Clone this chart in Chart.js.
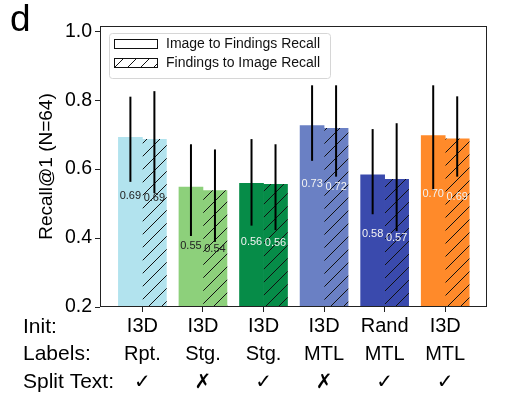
<!DOCTYPE html>
<html>
<head>
<meta charset="utf-8">
<script src="https://cdn.jsdelivr.net/npm/chart.js@4.4.0/dist/chart.umd.min.js"></script>
<style>
  html, body { margin: 0; padding: 0; background: #fff; }
  #wrap { width: 512px; height: 399px; }
</style>
</head>
<body>
<div id="wrap"><canvas id="recall-chart"></canvas></div>
<script>
// data
let categories = [0, 1, 2, 3, 4, 5]
let init_row = ['I3D', 'I3D', 'I3D', 'I3D', 'Rand', 'I3D']
let labels_row = ['Rpt.', 'Stg.', 'Stg.', 'MTL', 'MTL', 'MTL']
let split_row = ['\u2713', '\u2717', '\u2713', '\u2717', '\u2713', '\u2713']
let row_names = ['Init:', 'Labels:', 'Split Text:']

let img_to_find = [0.692, 0.548, 0.559, 0.726, 0.583, 0.697]
let img_to_find_low = [0.563, 0.406, 0.436, 0.624, 0.469, 0.539]
let img_to_find_high = [0.810, 0.672, 0.687, 0.843, 0.716, 0.843]

let find_to_img = [0.686, 0.538, 0.556, 0.718, 0.570, 0.688]
let find_to_img_low = [0.530, 0.389, 0.423, 0.578, 0.420, 0.578]
let find_to_img_high = [0.826, 0.657, 0.672, 0.843, 0.733, 0.811]

let y_ticks = [0.2, 0.4, 0.6, 0.8, 1.0]

// styles
let bar_colors = ['#b2e3ee', '#8dd07b', '#068c48', '#6a80c4', '#3a4aad', '#ff8a2a']
let label_colors = ['#222', '#222', '#f2f2f2', '#f2f2f2', '#f2f2f2', '#f2f2f2']
let FONT = "'Liberation Sans', Arial, 'DejaVu Sans', sans-serif"
let X_TICK_LEN = 5, X_TICK_PAD = 1, X_FONT = 20, X_LINE = 1.38

let canvas = document.querySelector('#recall-chart')
let ctx = canvas.getContext('2d')

function hatch(color) {
  let c = document.createElement('canvas')
  c.width = 13; c.height = 13
  let g = c.getContext('2d')
  g.fillStyle = color
  g.fillRect(0, 0, 13, 13)
  g.strokeStyle = '#111'
  g.lineWidth = 1
  g.beginPath()
  g.moveTo(0, 13); g.lineTo(13, 0)
  g.moveTo(-1, 1); g.lineTo(1, -1)
  g.moveTo(12, 14); g.lineTo(14, 12)
  g.stroke()
  return ctx.createPattern(c, 'repeat')
}

let toXY = arr => arr.map((v, i) => ({x: categories[i], y: v}))

// error bars, value labels, frame, legend and row headers
let extras = {
  id: 'extras',
  afterDatasetsDraw(chart) {
    let c = chart.ctx
    let y = chart.scales.y
    let area = chart.chartArea
    let errs = [[img_to_find_low, img_to_find_high], [find_to_img_low, find_to_img_high]]
    let vals = [img_to_find, find_to_img]

    c.save()
    c.strokeStyle = '#000'
    c.lineWidth = 2
    chart.data.datasets.forEach((ds, d) => {
      chart.getDatasetMeta(d).data.forEach((bar, i) => {
        c.beginPath()
        c.moveTo(bar.x, y.getPixelForValue(errs[d][1][i]))
        c.lineTo(bar.x, y.getPixelForValue(errs[d][0][i]))
        c.stroke()
      })
    })

    c.font = '11px ' + FONT
    c.textAlign = 'center'
    c.textBaseline = 'middle'
    chart.data.datasets.forEach((ds, d) => {
      chart.getDatasetMeta(d).data.forEach((bar, i) => {
        c.fillStyle = label_colors[i]
        c.fillText(vals[d][i].toFixed(2), bar.x, y.getPixelForValue(vals[d][i] - 0.17))
      })
    })

    // frame
    c.strokeStyle = '#222'
    c.lineWidth = 1
    c.strokeRect(Math.round(area.left) + 0.5, Math.round(area.top) + 0.5,
      Math.round(area.right - area.left) - 1, Math.round(area.bottom - area.top) - 1)

    // legend
    let lx = area.left + 9, ly = area.top + 7
    c.beginPath()
    c.roundRect(lx + 0.5, ly + 0.5, 221, 45, 3)
    c.fillStyle = 'rgba(255,255,255,0.8)'
    c.fill()
    c.strokeStyle = '#d6d6d6'
    c.stroke()
    let names = chart.data.datasets.map(ds => ds.label)
    let fills = ['#fff', hatch('#fff')]
    names.forEach((name, k) => {
      let py = ly + 6 + k * 19
      c.fillStyle = fills[k]
      c.fillRect(lx + 5, py, 43, 9)
      c.strokeStyle = '#111'
      c.strokeRect(lx + 5.5, py + 0.5, 43, 9)
      c.fillStyle = '#111'
      c.font = '14px ' + FONT
      c.textAlign = 'left'
      c.textBaseline = 'middle'
      c.fillText(name, lx + 57, py + 5)
    })

    // row headers of the x tick table
    c.fillStyle = '#000'
    c.font = '21px ' + FONT
    c.textAlign = 'left'
    let lh = X_FONT * X_LINE
    let y0 = chart.scales.x.top + X_TICK_LEN + X_TICK_PAD + lh / 2
    row_names.forEach((r, k) => c.fillText(r, 23, y0 + k * lh))

    // panel letter
    c.font = '37px ' + FONT
    c.textBaseline = 'alphabetic'
    c.fillText('d', 10, 31)
    c.restore()
  }
}

let chart = new Chart(canvas, {
  type: 'bar',
  data: {
    datasets: [{
      label: 'Image to Findings Recall',
      data: toXY(img_to_find),
      backgroundColor: bar_colors,
      borderWidth: 0,
      barThickness: 24
    }, {
      label: 'Findings to Image Recall',
      data: toXY(find_to_img),
      backgroundColor: bar_colors.map(hatch),
      borderWidth: 0,
      barThickness: 24
    }]
  },
  options: {
    responsive: true,
    maintainAspectRatio: false,
    animation: false,
    devicePixelRatio: 1,
    layout: { padding: { left: 0, right: 25, top: 26, bottom: 0 } },
    plugins: { legend: { display: false }, tooltip: { enabled: false } },
    scales: {
      x: {
        type: 'linear',
        min: -0.7,
        max: 5.69,
        offset: false,
        afterBuildTicks: s => { s.ticks = categories.map(v => ({ value: v })) },
        afterFit: s => { s.height = 92 },
        border: { display: false },
        grid: { drawOnChartArea: false, offset: false, tickLength: X_TICK_LEN, tickColor: '#222' },
        ticks: {
          autoSkip: false,
          maxRotation: 0,
          padding: X_TICK_PAD,
          color: '#000',
          font: { family: FONT, size: X_FONT, lineHeight: X_LINE },
          callback: v => [init_row[v], labels_row[v], split_row[v]]
        }
      },
      y: {
        min: 0.2,
        max: 1.015,
        afterBuildTicks: s => { s.ticks = y_ticks.map(v => ({ value: v })) },
        afterFit: s => { s.width = 100 },
        border: { display: false },
        grid: { drawOnChartArea: false, tickLength: 5, tickColor: '#222' },
        ticks: {
          padding: 3,
          color: '#000',
          font: { family: FONT, size: 19.5 },
          callback: v => v.toFixed(1)
        },
        title: {
          display: true,
          text: 'Recall@1 (N=64)',
          color: '#000',
          font: { family: FONT, size: 19, lineHeight: 1.2 },
          padding: { top: 35, bottom: 0 }
        }
      }
    }
  },
  plugins: [extras]
})
</script>
</body>
</html>
